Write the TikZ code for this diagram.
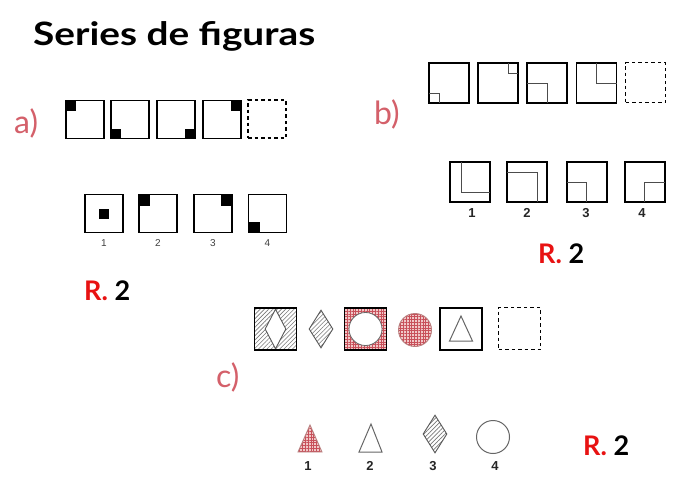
\documentclass[tikz,border=0pt]{standalone}
\usepackage{fontspec}
\setmainfont{Lato}
\newfontfamily\arialf{Liberation Sans}
\usetikzlibrary{patterns.meta,shapes.geometric}
\definecolor{lblpink}{RGB}{212,96,106}
\definecolor{ansred}{RGB}{232,18,18}
\definecolor{gridpink}{RGB}{240,200,200}
\definecolor{gridred}{RGB}{200,80,90}
\definecolor{hatchgray}{RGB}{120,120,120}
\tikzset{
  sq/.style={draw=black,line width=1.8pt,minimum size=#1,inner sep=0pt,outer sep=0pt},
  sq/.default=38pt,
  dsq/.style={draw=black,line width=1.7pt,dash pattern=on 3.5pt off 3pt,minimum size=#1,inner sep=0pt,outer sep=0pt},
  dsq/.default=38pt,
  blk/.style={fill=black,minimum size=#1,inner sep=0pt,outer sep=0pt},
  blk/.default=10pt,
  inl/.style={draw=black!70,line width=0.9pt},
  hatchfill/.style={pattern={Lines[angle=45,distance=3pt,line width=0.6pt]},pattern color=hatchgray},
  gridfill/.style={preaction={fill=gridpink},pattern={Hatch[angle=0,distance=2.8pt,line width=0.3pt]},pattern color=gridred},
  dia/.style={diamond,draw=black!65,line width=0.9pt,minimum width=24pt,minimum height=38pt,inner sep=0pt},
  title/.style={font=\bfseries\fontsize{33}{38}\selectfont,anchor=base west,inner sep=0pt},
  part/.style={font=\fontsize{32}{36}\selectfont,text=lblpink,anchor=base west,inner sep=0pt},
  ansr/.style={font=\bfseries\fontsize{27}{30}\selectfont,anchor=base west,inner sep=0pt},
  numa/.style={font=\arialf\fontsize{10}{12}\selectfont,text=black!75,inner sep=0pt},
  numb/.style={font=\arialf\bfseries\fontsize{13}{15}\selectfont,text=black!85,inner sep=0pt},
}
\begin{document}
\begin{tikzpicture}[x=1pt,y=-1pt]
\fill[white] (0,0) rectangle (685,493);
\useasboundingbox (0,0) rectangle (685,493);

\node[title] (title) at (33,45) {\resizebox{282pt}{24pt}{Series de figuras}};

% ---------------- a)
\node[part] (la) at (14,133) {a)};
\node[sq] (a1) at (85,119.5) {};
\node[sq] (a2) at (130,119.5) {};
\node[sq] (a3) at (176,119.5) {};
\node[sq] (a4) at (222,119.5) {};
\node[dsq] (a5) at (267,119) {};
\node[blk,anchor=north west] (a1c) at (a1.north west) {};
\node[blk,anchor=south west] (a2c) at (a2.south west) {};
\node[blk,anchor=south east] (a3c) at (a3.south east) {};
\node[blk,anchor=north east] (a4c) at (a4.north east) {};

\node[sq] (ao1) at (104,213.5) {};
\node[sq] (ao2) at (158,213.5) {};
\node[sq] (ao3) at (213,213.5) {};
\node[sq] (ao4) at (267.5,213.5) {};
\node[blk] (ao1c) at (ao1.center) {};
\node[blk=11pt,anchor=north west] (ao2c) at (ao2.north west) {};
\node[blk=11pt,anchor=north east] (ao3c) at (ao3.north east) {};
\node[blk=11pt,anchor=south west] (ao4c) at (ao4.south west) {};
\node[numa] (an1) at (104,243) {1};
\node[numa] (an2) at (158,243) {2};
\node[numa] (an3) at (213,243) {3};
\node[numa] (an4) at (267.5,243) {4};
\node[ansr] (ra) at (84,300) {\textcolor{ansred}{R.} 2};

% ---------------- b)
\node[part] (lb) at (374,124) {b)};
\node[sq=40pt] (b1) at (449,83) {};
\node[sq=40pt] (b2) at (498,83) {};
\node[sq=40pt] (b3) at (547,83) {};
\node[sq=40pt] (b4) at (596.5,83) {};
\node[dsq=40pt] (b5) at (645.5,82.5) {};
\draw[inl] ([yshift=10pt]b1.south west) -| ([xshift=10pt]b1.south west);
\draw[inl] ([xshift=-10pt]b2.north east) |- ([yshift=-10pt]b2.north east);
\draw[inl] ([yshift=20pt]b3.south west) -| ([xshift=20pt]b3.south west);
\draw[inl] ([xshift=-20pt]b4.north east) |- ([yshift=-20pt]b4.north east);

\node[sq=40pt] (bo1) at (470,182) {};
\node[sq=40pt] (bo2) at (527,182) {};
\node[sq=40pt] (bo3) at (587,182) {};
\node[sq=40pt] (bo4) at (645,182) {};
\draw[inl] ([xshift=-29pt]bo1.north east) |- ([yshift=-30pt]bo1.north east);
\draw[inl] ([yshift=30pt]bo2.south west) -| ([xshift=30pt]bo2.south west);
\draw[inl] ([yshift=20pt]bo3.south west) -| ([xshift=19pt]bo3.south west);
\draw[inl] ([xshift=-21pt]bo4.south east) |- ([yshift=20pt]bo4.south east);
\node[numb] (bn1) at (472,213) {1};
\node[numb] (bn2) at (527,213) {2};
\node[numb] (bn3) at (586,213) {3};
\node[numb] (bn4) at (642,213) {4};
\node[ansr] (rb) at (538,263) {\textcolor{ansred}{R.} 2};

% ---------------- c)
\node[part] (lc) at (216,387) {c)};
\node[sq=42pt,hatchfill] (c1) at (275.5,329) {};
\node[diamond,draw=black!65,line width=0.9pt,fill=white,minimum width=21pt,minimum height=40pt,inner sep=0pt] (c1d) at (c1.center) {};
\node[sq=42pt] (c1b) at (c1.center) {};
\node[dia,hatchfill] (c2) at (321,329) {};
\node[sq=42pt,gridfill] (c3) at (365.5,329) {};
\node[circle,draw=black!60,line width=0.8pt,fill=white,minimum size=33pt,inner sep=0pt] (c3c) at (c3.center) {};
\node[sq=42pt] (c3b) at (c3.center) {};
\node[circle,draw=black!55!red!50,line width=0.9pt,gridfill,minimum size=33pt,inner sep=0pt] (c4) at (415,330) {};
\node[sq=42pt] (c5) at (461,329) {};
\coordinate (c5t) at (461,316);
\coordinate (c5l) at (449.5,341);
\coordinate (c5r) at (472.5,341);
\draw[draw=black!60,line width=1pt] (c5t) -- (c5l) -- (c5r) -- cycle;
\node[dsq=42pt] (c6) at (519.5,328.5) {};

\coordinate (t1a) at (310,425);
\coordinate (t1l) at (298,452);
\coordinate (t1r) at (322,452);
\draw[draw=black!55!red!50,line width=0.9pt,gridfill] (t1a) -- (t1l) -- (t1r) -- cycle;
\coordinate (t2a) at (371,424);
\coordinate (t2l) at (359,452);
\coordinate (t2r) at (382,452);
\draw[draw=black!60,line width=1pt] (t2a) -- (t2l) -- (t2r) -- cycle;
\node[dia,hatchfill] (co3) at (435,434) {};
\node[circle,draw=black!60,line width=1pt,minimum size=33pt,inner sep=0pt] (co4) at (493,437) {};
\node[numb] (cn1) at (308,466) {1};
\node[numb] (cn2) at (370,466) {2};
\node[numb] (cn3) at (433,466) {3};
\node[numb] (cn4) at (495,466) {4};
\node[ansr] (rc) at (583,455) {\textcolor{ansred}{R.} 2};
\end{tikzpicture}
\end{document}
